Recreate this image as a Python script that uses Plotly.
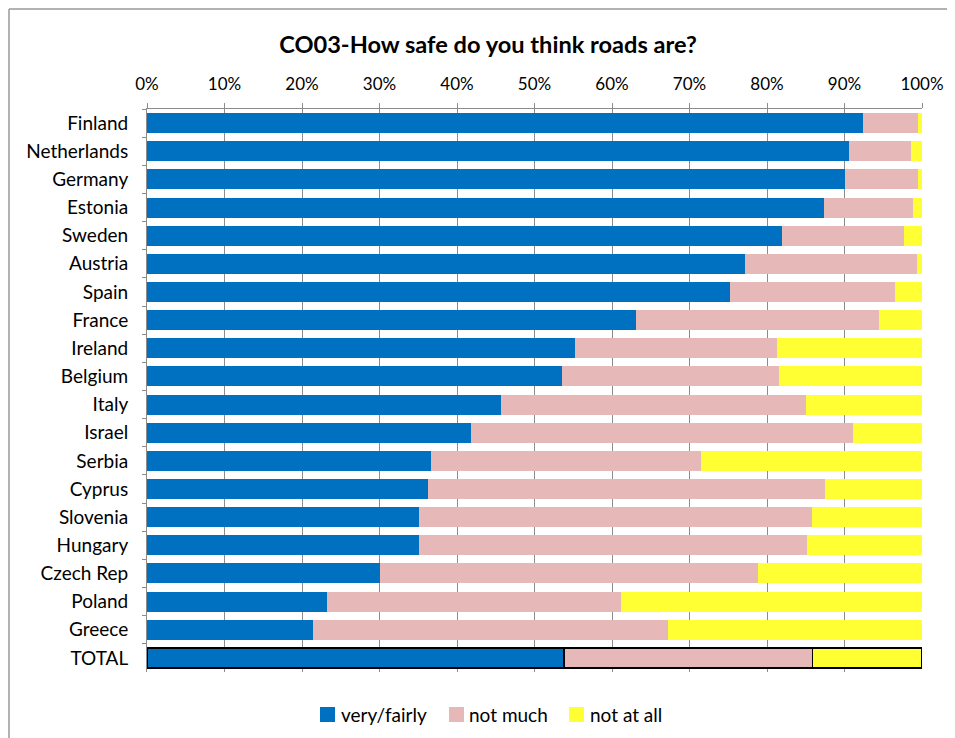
import plotly.graph_objects as go

countries = ["Finland", "Netherlands", "Germany", "Estonia", "Sweden", "Austria", "Spain",
             "France", "Ireland", "Belgium", "Italy", "Israel", "Serbia", "Cyprus",
             "Slovenia", "Hungary", "Czech Rep", "Poland", "Greece", "TOTAL"]
very_fairly = [92.4, 90.6, 90.0, 87.3, 81.9, 77.2, 75.2, 63.1, 55.2, 53.5, 45.7, 41.8,
               36.7, 36.3, 35.1, 35.1, 30.0, 23.2, 21.4, 53.8]
not_much = [7.1, 8.0, 9.5, 11.6, 15.8, 22.2, 21.3, 31.4, 26.1, 28.0, 39.3, 49.3,
            34.8, 51.2, 50.7, 50.1, 48.9, 37.9, 45.8, 32.1]
not_at_all = [0.5, 1.4, 0.5, 1.1, 2.3, 0.6, 3.5, 5.5, 18.7, 18.5, 15.0, 8.9,
              28.5, 12.5, 14.2, 14.8, 21.1, 38.9, 32.8, 14.1]
series_names = ["very/fairly", "not much", "not at all"]
series_colors = ["#0070C0", "#E6B8B7", "#FFFF33"]

W, H = 947, 730
L, R, T, B = 139, 33, 101, 66
PW, PH = W - L - R, H - T - B


def px_x(px):
    return (px - L) / PW


def px_y(py):
    return (H - B - py) / PH


font = "Lato, Open Sans, sans-serif"
fig = go.Figure()
for name, vals, col in zip(series_names, [very_fairly, not_much, not_at_all], series_colors):
    lw = [1.5 if c == "TOTAL" else 0 for c in countries]
    fig.add_trace(go.Bar(
        y=countries, x=[v / 100 for v in vals], name=name, orientation="h",
        marker=dict(color=col, line=dict(color="black", width=lw)),
        showlegend=False,
    ))

fig.update_layout(
    barmode="stack", bargap=0.29,
    width=W, height=H,
    margin=dict(l=L, r=R, t=T, b=B),
    paper_bgcolor="white", plot_bgcolor="white",
    font=dict(family=font, size=18, color="black"),
    title=dict(text="<b>CO03-How safe do you think roads are?</b>",
               x=480 / W, xanchor="center", y=1 - 37 / H, yanchor="middle",
               font=dict(family=font, size=23.6, color="black")),
)
fig.update_xaxes(side="top", range=[0, 1], dtick=0.1, tickformat=".0%",
                 showgrid=True, gridcolor="#8c8c8c", gridwidth=1,
                 showline=True, linecolor="#8c8c8c", linewidth=1,
                 ticks="outside", ticklen=5, tickcolor="#8c8c8c", ticklabelstandoff=6,
                 tickfont=dict(family=font, size=17), zeroline=False)
fig.update_yaxes(autorange="reversed", showline=True, linecolor="#8c8c8c", linewidth=1,
                 ticks="outside", ticklen=4, tickcolor="#8c8c8c", tickson="boundaries",
                 ticklabelstandoff=14,
                 showgrid=False, tickfont=dict(family=font, size=19))

# custom legend (squares + labels) placed like the original
leg_sq_x = [312, 441, 561]
leg_tx_x = [331, 459, 580]
for name, col, sx, tx in zip(series_names, series_colors, leg_sq_x, leg_tx_x):
    fig.add_shape(type="rect", xref="paper", yref="paper",
                  x0=px_x(sx), x1=px_x(sx + 15), y0=px_y(699), y1=px_y(714),
                  fillcolor=col, line=dict(width=0))
    fig.add_annotation(xref="paper", yref="paper", x=px_x(tx), y=px_y(706),
                       xanchor="left", yanchor="middle", showarrow=False,
                       text=name, font=dict(family=font, size=19, color="black"))

# outer chart frame (top and left edges only)
fig.add_shape(type="line", xref="paper", yref="paper",
              x0=px_x(1), x1=px_x(W), y0=px_y(1), y1=px_y(1),
              line=dict(color="#999999", width=1.5))
fig.add_shape(type="line", xref="paper", yref="paper",
              x0=px_x(1), x1=px_x(1), y0=px_y(1), y1=px_y(H),
              line=dict(color="#999999", width=1.5))

fig.write_html("out.html")
